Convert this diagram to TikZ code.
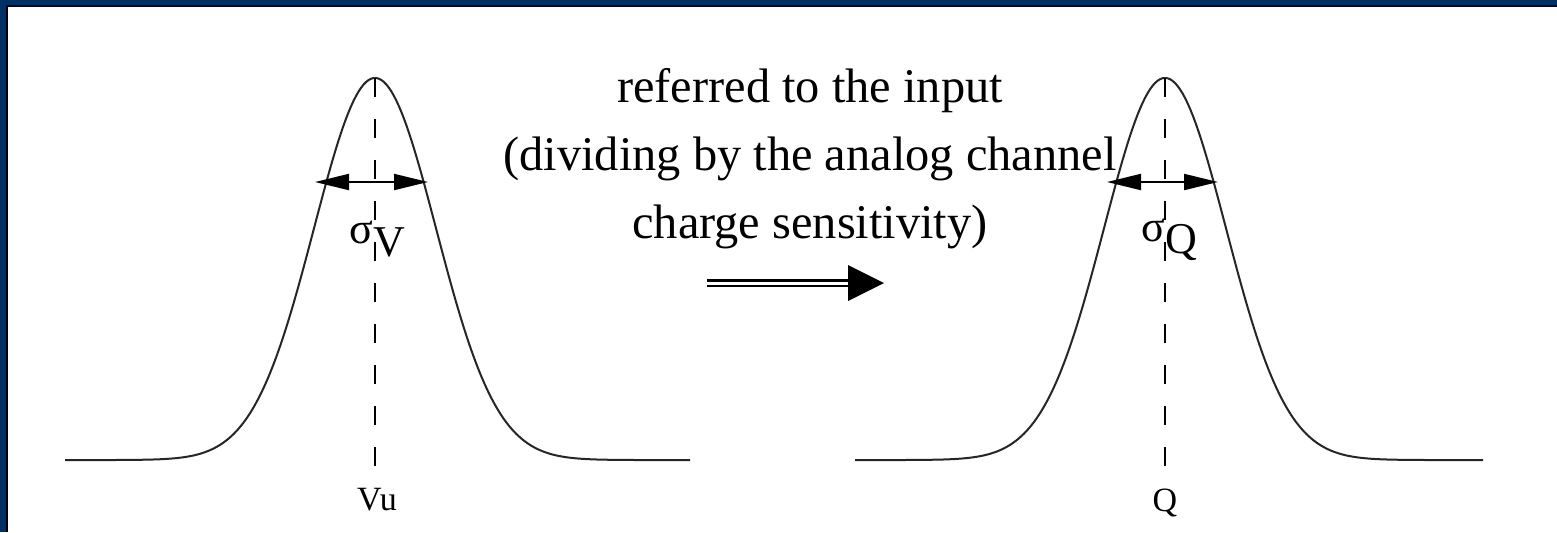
\documentclass[tikz,border=0pt]{standalone}
\usepackage{fontspec}
\setmainfont{Liberation Serif}
\usetikzlibrary{arrows.meta}
\definecolor{frameblue}{RGB}{0,48,100}
\begin{document}
\begin{tikzpicture}[x=0.5pt,y=-0.5pt,
  curve/.style={line width=1pt, black!85},
  axisline/.style={line width=0.8pt, black, dash pattern=on 9.5pt off 11pt},
  width arrow/.style={line width=1pt, black, {Triangle[length=17pt,width=8pt]}-{Triangle[length=17pt,width=8pt]}},
  bigtext/.style={font=\fontsize{24.2}{29}\selectfont, inner sep=0pt, anchor=base},
  smalltext/.style={font=\fontsize{17}{20}\selectfont, inner sep=0pt, anchor=base},
  sigmatext/.style={font=\fontsize{22}{26}\selectfont, inner sep=0pt, anchor=base west}]
\fill[frameblue] (0,0) rectangle (1557,532);
\fill[black] (6,5) rectangle (1557,532);
\fill[white] (8,7) rectangle (1557,532);
\useasboundingbox (0,0) rectangle (1557,532);

% left gaussian
\coordinate (pkL) at (375,78);
\coordinate (ftL) at (375,475);
\draw[curve] plot[domain=-310:315, samples=250] ({375+\x},{460-382*exp(-0.5*(\x/61)^2)});
\draw[axisline] (pkL) -- (ftL);
\coordinate (aLl) at (315,182);
\coordinate (aLr) at (428,182);
\draw[width arrow] (aLl) -- (aLr);
\node[sigmatext] (sV) at (349,243) {σ\raisebox{-6.5pt}{V}};
\node[smalltext] (vu) at (377,510) {Vu};

% right gaussian
\coordinate (pkR) at (1165,78);
\coordinate (ftR) at (1165,475);
\draw[curve] plot[domain=-310:318, samples=250] ({1165+\x},{460-382*exp(-0.5*(\x/61)^2)});
\draw[axisline] (pkR) -- (ftR);
\coordinate (aRl) at (1107,182);
\coordinate (aRr) at (1218,182);
\draw[width arrow] (aRl) -- (aRr);
\node[sigmatext] (sQ) at (1141,241) {σ\raisebox{-6pt}{Q}};
\node[smalltext] (q) at (1165,511) {Q};

% middle text
\node[bigtext] (t1) at (810,102) {referred to the input};
\node[bigtext] (t2) at (810,170) {(dividing by the analog channel};
\node[bigtext] (t3) at (810,238) {charge sensitivity)};

% double arrow
\coordinate (dA) at (707,283);
\coordinate (dB) at (849,283);
\draw[line width=1.35pt, double=white, double distance=1.5pt] (dA) -- (dB);
\fill[black] (848,265) -- (884,283) -- (848,301) -- cycle;
\end{tikzpicture}
\end{document}
